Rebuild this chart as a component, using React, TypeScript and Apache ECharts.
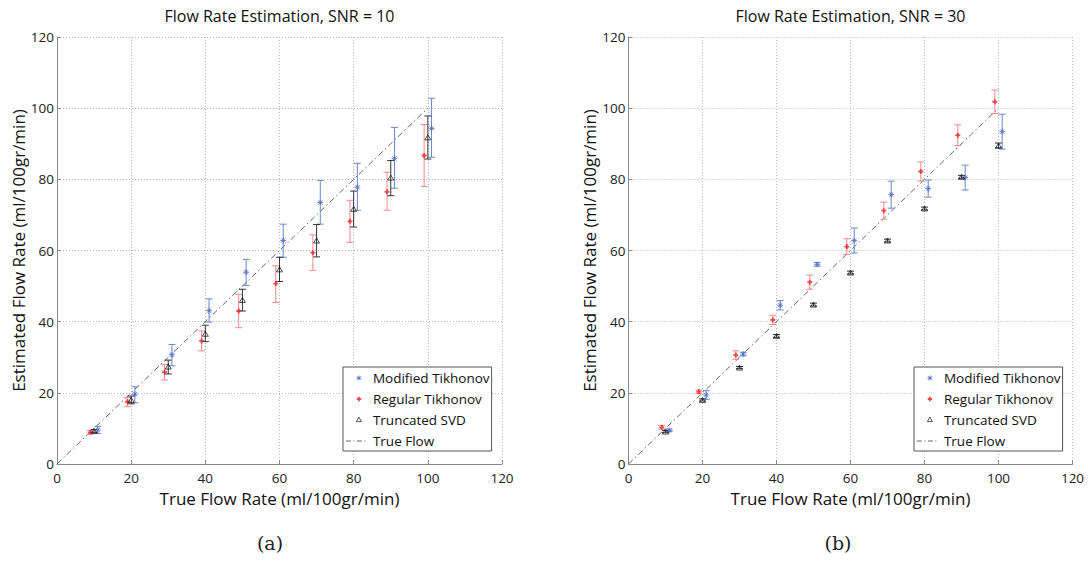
import React, { useEffect, useRef } from "react";
import * as echarts from "echarts";

// ---------- data ----------
const xTicks = [0, 20, 40, 60, 80, 100, 120];
const blackX = [10, 20, 30, 40, 50, 60, 70, 80, 90, 100];
const regX = [9, 19, 29, 39, 49, 59, 69, 79, 89, 99];
const modX = [11, 21, 31, 41, 51, 61, 71, 81, 91, 101];
const trueLineX = [0, 100];
const trueLineY = [0, 100];

// SNR = 10
const mod10 = [9.55, 19.6, 30.7, 43.1, 53.9, 62.8, 73.5, 77.8, 85.9, 94.3];
const mod10Lo = [8.6, 17.2, 27.6, 39.9, 50.2, 58.1, 67.4, 71.3, 77.5, 86.2];
const mod10Hi = [10.5, 21.7, 33.6, 46.4, 57.5, 67.4, 79.7, 84.5, 94.6, 102.8];
const reg10 = [8.9, 17.5, 25.8, 34.6, 43.0, 50.7, 59.4, 68.2, 76.5, 86.7];
const reg10Lo = [8.4, 16.1, 23.6, 31.8, 38.3, 45.4, 54.4, 62.3, 71.3, 78.0];
const reg10Hi = [9.4, 18.7, 28.0, 37.4, 47.7, 55.7, 64.4, 74.1, 82.0, 95.4];
const svd10 = [9.27, 18.0, 27.4, 36.6, 46.1, 54.7, 62.8, 71.7, 80.5, 91.8];
const svd10Lo = [8.9, 16.9, 25.3, 34.4, 43.0, 51.3, 58.2, 66.6, 75.4, 85.7];
const svd10Hi = [9.7, 19.1, 29.2, 39.0, 49.1, 58.1, 67.3, 76.7, 85.3, 97.8];

// SNR = 30
const mod30 = [9.46, 19.4, 30.9, 44.6, 56.1, 62.8, 75.7, 77.4, 80.5, 93.4];
const mod30Lo = [9.1, 18.2, 30.4, 43.3, 55.6, 59.3, 71.9, 75.0, 77.0, 88.5];
const mod30Hi = [9.8, 20.6, 31.4, 45.9, 56.6, 66.3, 79.5, 79.8, 84.0, 98.3];
const reg30 = [10.3, 20.3, 30.6, 40.5, 51.1, 61.1, 71.2, 82.2, 92.4, 101.8];
const reg30Lo = [9.8, 19.8, 29.4, 39.2, 49.1, 58.9, 68.8, 79.5, 89.5, 98.5];
const reg30Hi = [10.8, 20.8, 31.8, 41.8, 53.1, 63.3, 73.6, 84.9, 95.3, 105.1];
const svd30 = [9.1, 18.0, 27.1, 36.0, 44.8, 53.8, 62.8, 71.8, 80.7, 89.5];
const svd30Lo = [8.8, 17.7, 26.8, 35.6, 44.4, 53.4, 62.4, 71.4, 80.3, 88.8];
const svd30Hi = [9.4, 18.3, 27.4, 36.4, 45.2, 54.2, 63.2, 72.2, 81.1, 90.2];

const titles = ["Flow Rate Estimation, SNR = 10", "Flow Rate Estimation, SNR = 30"];
const captions = ["(a)", "(b)"];
const legendNames = ["Modified Tikhonov", "Regular Tikhonov", "Truncated SVD", "True Flow"];
const xName = "True Flow Rate (ml/100gr/min)";
const yName = "Estimated Flow Rate (ml/100gr/min)";

// ---------- styles ----------
const FONT = "'Open Sans', 'Noto Sans', sans-serif";
const BLUE = "#4c6cc8";
const BLUE_BAR = "#6a86cc";
const RED = "#ee2222";
const RED_BAR = "#f28a8a";
const BLACK = "#111";
const BLACK_BAR = "#333";
const LINE_GRAY = "#666";

const starPath = "path://M0,4L8,4M4,0L4,8M1.2,1.2L6.8,6.8M1.2,6.8L6.8,1.2";
const plusPath = "path://M0,4L8,4M4,0L4,8";
const triPath = "path://M4,0L8,7L0,7Z";

const starIcon = "path://M0,0M22,12M10.5,6L15.5,6M13,3.5L13,8.5M11.2,4.2L14.8,7.8M11.2,7.8L14.8,4.2";
const plusIcon = "path://M0,0M22,12M10.8,6L15.2,6M13,3.8L13,8.2";
const triIcon = "path://M0,0M22,12M13,3.2L15.5,7.6L10.5,7.6Z";
const dashDotIcon = "path://M0,0M22,12M0,6L5,6M7.5,6L8.5,6M11,6L16,6M18.5,6L19.5,6";

const zip = (xs: number[], ys: number[]) => xs.map((x, i) => [x, ys[i]]);
const zip3 = (xs: number[], lo: number[], hi: number[]) => xs.map((x, i) => [x, lo[i], hi[i]]);

function errRender(color: string) {
  return (_params: any, api: any) => {
    const x = api.value(0);
    const lo = api.value(1);
    const hi = api.value(2);
    const a = api.coord([x, lo]);
    const b = api.coord([x, hi]);
    const cap = 3.5;
    const style = { stroke: color, lineWidth: 1 };
    return {
      type: "group",
      children: [
        { type: "line", shape: { x1: a[0], y1: a[1], x2: b[0], y2: b[1] }, style },
        { type: "line", shape: { x1: a[0] - cap, y1: a[1], x2: a[0] + cap, y2: a[1] }, style },
        { type: "line", shape: { x1: b[0] - cap, y1: b[1], x2: b[0] + cap, y2: b[1] }, style },
      ],
    };
  };
}

function panelSeries(idx: number, d: any) {
  const ax = { xAxisIndex: idx, yAxisIndex: idx };
  return [
    {
      ...ax, type: "scatter", name: legendNames[0], z: 5, symbol: starPath, symbolSize: 6,
      itemStyle: { color: "rgba(0,0,0,0)", borderColor: BLUE, borderWidth: 1 },
      data: zip(modX, d.mod),
    },
    {
      ...ax, type: "scatter", name: legendNames[1], z: 5, symbol: plusPath, symbolSize: 5,
      itemStyle: { color: "rgba(0,0,0,0)", borderColor: RED, borderWidth: 1.8 },
      data: zip(regX, d.reg),
    },
    {
      ...ax, type: "scatter", name: legendNames[2], z: 5, symbol: triPath, symbolSize: [6, 5],
      itemStyle: { color: "rgba(0,0,0,0)", borderColor: BLACK, borderWidth: 0.9 },
      data: zip(blackX, d.svd),
    },
    {
      ...ax, type: "line", name: legendNames[3], z: 1, symbol: "none", showSymbol: false,
      lineStyle: { color: LINE_GRAY, width: 1, type: [6, 3, 1.5, 3] },
      itemStyle: { color: LINE_GRAY },
      data: zip(trueLineX, trueLineY),
    },
    { ...ax, type: "custom", name: "eb-mod-" + idx, z: 3, renderItem: errRender(BLUE_BAR), encode: { x: 0, y: [1, 2] }, data: zip3(modX, d.modLo, d.modHi) },
    { ...ax, type: "custom", name: "eb-reg-" + idx, z: 3, renderItem: errRender(RED_BAR), encode: { x: 0, y: [1, 2] }, data: zip3(regX, d.regLo, d.regHi) },
    { ...ax, type: "custom", name: "eb-svd-" + idx, z: 3, renderItem: errRender(BLACK_BAR), encode: { x: 0, y: [1, 2] }, data: zip3(blackX, d.svdLo, d.svdHi) },
  ];
}

const grids = [
  { left: 57, top: 37, width: 445, height: 427 },
  { left: 628.5, top: 37, width: 444, height: 427 },
];

function axisCommon() {
  return {
    min: xTicks[0],
    max: xTicks[xTicks.length - 1],
    interval: 20,
    axisLine: { show: true, lineStyle: { color: "#8a8a8a", width: 1 } },
    axisTick: { show: true, inside: true, length: 4, lineStyle: { color: "#8a8a8a" } },
    splitLine: { show: true, lineStyle: { color: "#b8b8b8", type: [1, 2], width: 1 } },
    axisLabel: { color: "#222", fontSize: 13.5, fontFamily: FONT },
    nameLocation: "middle",
    nameTextStyle: { color: "#111", fontSize: 17, fontFamily: FONT },
  };
}

function legendFor(left: number) {
  return {
    orient: "vertical",
    left,
    top: 367,
    padding: [4, 2, 3, 2],
    itemWidth: 22,
    itemHeight: 12,
    itemGap: 7,
    backgroundColor: "#fff",
    borderColor: "#555",
    borderWidth: 1,
    borderRadius: 0,
    textStyle: { color: "#111", fontSize: 13.5, fontFamily: FONT },
    data: [
      { name: legendNames[0], icon: starIcon, itemStyle: { color: "rgba(0,0,0,0)", borderColor: BLUE, borderWidth: 1 } },
      { name: legendNames[1], icon: plusIcon, itemStyle: { color: "rgba(0,0,0,0)", borderColor: RED, borderWidth: 1.8 } },
      { name: legendNames[2], icon: triIcon, itemStyle: { color: "rgba(0,0,0,0)", borderColor: BLACK, borderWidth: 0.9 } },
      { name: legendNames[3], icon: dashDotIcon, itemStyle: { color: "rgba(0,0,0,0)", borderColor: LINE_GRAY, borderWidth: 1 } },
    ],
  };
}

export default function App() {
  const ref = useRef<HTMLDivElement>(null);
  useEffect(() => {
    if (!ref.current) return;
    const chart = echarts.init(ref.current, undefined, { renderer: "svg" });
    const d10 = { mod: mod10, modLo: mod10Lo, modHi: mod10Hi, reg: reg10, regLo: reg10Lo, regHi: reg10Hi, svd: svd10, svdLo: svd10Lo, svdHi: svd10Hi };
    const d30 = { mod: mod30, modLo: mod30Lo, modHi: mod30Hi, reg: reg30, regLo: reg30Lo, regHi: reg30Hi, svd: svd30, svdLo: svd30Lo, svdHi: svd30Hi };
    const centers = grids.map((g) => g.left + g.width / 2);
    chart.setOption({
      animation: false,
      backgroundColor: "#fff",
      grid: grids,
      xAxis: grids.map((_, i) => ({
        ...axisCommon(),
        type: "value",
        gridIndex: i,
        name: xName,
        nameGap: 19,
        axisLabel: { ...axisCommon().axisLabel, margin: 7 },
      })),
      yAxis: grids.map((_, i) => ({
        ...axisCommon(),
        type: "value",
        gridIndex: i,
        name: yName,
        nameGap: 28,
        axisLabel: { ...axisCommon().axisLabel, margin: 3 },
      })),
      legend: [legendFor(343), legendFor(914)],
      series: [...panelSeries(0, d10), ...panelSeries(1, d30)],
      graphic: [
        ...titles.map((t, i) => ({
          type: "text",
          x: centers[i],
          y: 16,
          style: { text: t, align: "center", verticalAlign: "middle", fontSize: 16, fontFamily: FONT, fill: "#111" },
        })),
        ...captions.map((t, i) => ({
          type: "text",
          x: [270, 838][i],
          y: 543,
          style: { text: t, align: "center", verticalAlign: "middle", fontSize: 19, fontFamily: "'DejaVu Serif', 'Liberation Serif', serif", fill: "#222" },
        })),
      ],
    });
    return () => chart.dispose();
  }, []);
  return (
    <div
      ref={ref}
      style={{ position: "absolute", left: 0, top: 0, width: 1088, height: 561, background: "#fff" }}
    />
  );
}
